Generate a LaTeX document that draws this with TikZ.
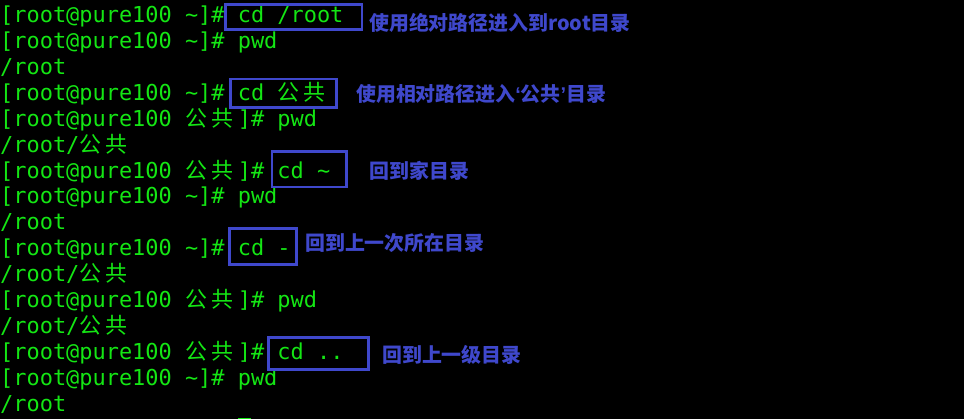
\documentclass[tikz,border=0pt]{standalone}
\usepackage{fontspec}
\setmonofont{DejaVu Sans Mono}
\newfontfamily\cjk{Noto Sans CJK SC}
\newfontfamily\quotefont{Liberation Sans}
\usepackage{tikz}
\definecolor{termgreen}{RGB}{20,230,20}
\definecolor{markblue}{RGB}{63,72,204}
\def\zh#1{\makebox[26.4pt][l]{\cjk #1}}
\def\pub{\zh{公}\zh{共}}
\def\prompt#1{[root@pure100 #1]\#}
\tikzset{
	term/.style={anchor=base west, inner sep=0, text=termgreen, font=\ttfamily\frenchspacing\fontsize{21.93}{26}\selectfont},
	note/.style={anchor=base west, inner sep=0, text=markblue, font=\cjk\bfseries\fontsize{19.9}{24}\selectfont},
	markbox/.style={draw=markblue, line width=2.7pt}
}

\begin{document}
\begin{tikzpicture}[x=1pt, y=-1pt]
			%%%%% START %%%%%
			\useasboundingbox (0, 0) rectangle (964, 419);
			\fill[black] (0, 0) rectangle (964, 419);
			
			\node[term] (l1) at (0, 22.7) {\prompt{\textasciitilde} cd /root};
			\node[term] (l2) at (0, 48.6) {\prompt{\textasciitilde} pwd};
			\node[term] (l3) at (0, 74.5) {/root};
			\node[term] (l4) at (0, 100.4) {\prompt{\textasciitilde} cd \pub};
			\node[term] (l5) at (0, 126.3) {\prompt{\pub} pwd};
			\node[term] (l6) at (0, 152.2) {/root/\pub};
			\node[term] (l7) at (0, 178.1) {\prompt{\pub} cd \textasciitilde};
			\node[term] (l8) at (0, 204.0) {\prompt{\textasciitilde} pwd};
			\node[term] (l9) at (0, 229.9) {/root};
			\node[term] (l10) at (0, 255.8) {\prompt{\textasciitilde} cd -};
			\node[term] (l11) at (0, 281.7) {/root/\pub};
			\node[term] (l12) at (0, 307.6) {\prompt{\pub} pwd};
			\node[term] (l13) at (0, 333.5) {/root/\pub};
			\node[term] (l14) at (0, 359.4) {\prompt{\pub} cd ..};
			\node[term] (l15) at (0, 385.3) {\prompt{\textasciitilde} pwd};
			\node[term] (l16) at (0, 411.2) {/root};
			\fill[termgreen] (237.6, 417.7) rectangle (250.8, 419);
			
			\draw[markbox] (225.6, 4.6) rectangle (362, 29.4);
			\draw[markbox] (230.3, 79) rectangle (336.7, 107.7);
			\draw[markbox] (272, 151.3) rectangle (346.3, 187);
			\draw[markbox] (229.6, 228.6) rectangle (296.3, 264.7);
			\draw[markbox] (268.6, 337.3) rectangle (368.7, 369.4);
			
			\node[note] (n1) at (369, 30.4) {使用绝对路径进入到root目录};
			\node[note] (n2) at (356, 101.4) {使用相对路径进入{\quotefont\bfseries‘}公共{\quotefont\bfseries’}目录};
			\node[note] (n3) at (369.7, 178.4) {回到家目录};
			\node[note] (n4) at (305, 250.4) {回到上一次所在目录};
			\node[note] (n5) at (382, 363) {回到上一级目录};
			%%%%% END %%%%%
\end{tikzpicture}
\end{document}
